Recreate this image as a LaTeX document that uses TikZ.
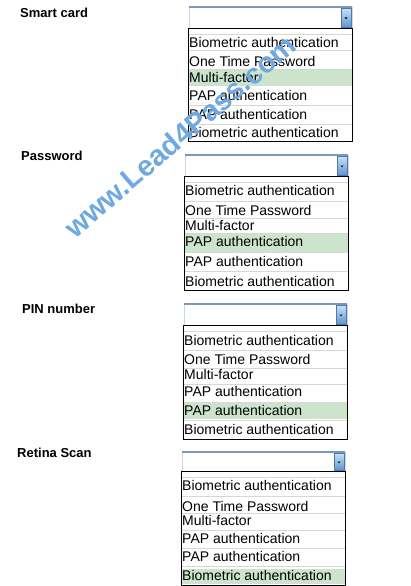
\documentclass[tikz,border=0pt]{standalone}
\usepackage{fontspec}
\setmainfont{Liberation Sans}
\definecolor{hl}{RGB}{204,228,204}
\definecolor{sep}{RGB}{215,215,215}
\definecolor{combotop}{RGB}{122,152,185}
\definecolor{comboside}{RGB}{205,215,228}
\definecolor{btnlight}{RGB}{200,222,245}
\definecolor{btndark}{RGB}{95,150,210}
\definecolor{wm}{RGB}{112,168,225}
\tikzset{
  itemtext/.style={anchor=base west, inner sep=0pt, font=\fontsize{14}{16}\selectfont},
  labeltext/.style={anchor=base west, inner sep=0pt, font=\fontsize{13}{15}\selectfont\bfseries},
  listframe/.style={draw=black, line width=0.9pt},
  sepline/.style={draw=sep, line width=0.8pt},
  hlband/.style={fill=hl},
}
% #1 name, #2 left, #3 right, #4 combo top, #5 list top, #6 list bottom
\newcommand{\combobox}[6]{%
  \fill[white] (#2,#4) rectangle (#3,#5);
  \draw[comboside, line width=0.8pt] (#2,#4) -- (#2,#5) (#3,#4) -- (#3,#5);
  \draw[combotop, line width=1.6pt] (#2,#4) -- (#3,#4);
  \shade[top color=btnlight, bottom color=btndark] ({#3-11},{#4+1.5}) rectangle ({#3-1},{#5-1});
  \draw[btndark!80!black, line width=0.4pt] ({#3-11},{#4+1.5}) rectangle ({#3-1},{#5-1});
  \fill[black] ({#3-7.5},{(#4+#5)/2}) -- ({#3-4.5},{(#4+#5)/2}) -- ({#3-6},{(#4+#5)/2+1.8}) -- cycle;
  \coordinate (#1-nw) at (#2,#5);
  \coordinate (#1-se) at (#3,#6);
}
\begin{document}
\begin{tikzpicture}[x=1pt,y=-1pt]
\useasboundingbox (0,0) rectangle (410,586);
\fill[white] (0,0) rectangle (410,586);

% ---------- Block 1: Smart card ----------
\node[labeltext] (l1) at (20,17.5) {Smart card};
\combobox{c1}{189}{352}{7}{28}{141}
\fill[hlband] (188,69) rectangle (352,85);
\foreach \s in {34,50,69,85,105,124} \draw[sepline] (188,\s) -- (352,\s);
\node[itemtext] (a1) at (189,48) {Biometric authentication};
\node[itemtext] (a2) at (189,66.5) {One Time Password};
\node[itemtext] (a3) at (189,82) {Multi-factor};
\node[itemtext] (a4) at (189,100) {PAP authentication};
\node[itemtext] (a5) at (189,119) {PAP authentication};
\node[itemtext] (a6) at (189,137.5) {Biometric authentication};
\draw[listframe] (188,28) rectangle (352,141);

% ---------- Block 2: Password ----------
\node[labeltext] (l2) at (21,160.5) {Password};
\combobox{c2}{185}{348}{155}{176}{290}
\fill[hlband] (184,233) rectangle (348,252);
\foreach \s in {182.5,201,218,233,252,271} \draw[sepline] (184,\s) -- (348,\s);
\node[itemtext] (b1) at (185,195.5) {Biometric authentication};
\node[itemtext] (b2) at (185,215) {One Time Password};
\node[itemtext] (b3) at (185,230) {Multi-factor};
\node[itemtext] (b4) at (185,246.5) {PAP authentication};
\node[itemtext] (b5) at (185,266.5) {PAP authentication};
\node[itemtext] (b6) at (185,286) {Biometric authentication};
\draw[listframe] (184,176) rectangle (348,290);

% ---------- Block 3: PIN number ----------
\node[labeltext] (l3) at (22,313.5) {PIN number};
\combobox{c3}{184}{347}{304}{325}{439}
\fill[hlband] (183,402.5) rectangle (347,418.5);
\foreach \s in {331.5,350,368,384,402.5,420} \draw[sepline] (183,\s) -- (347,\s);
\node[itemtext] (d1) at (184,345) {Biometric authentication};
\node[itemtext] (d2) at (184,364) {One Time Password};
\node[itemtext] (d3) at (184,379) {Multi-factor};
\node[itemtext] (d4) at (184,396) {PAP authentication};
\node[itemtext] (d5) at (184,415) {PAP authentication};
\node[itemtext] (d6) at (184,434) {Biometric authentication};
\draw[listframe] (183,325) rectangle (347,439);

% ---------- Block 4: Retina Scan ----------
\node[labeltext] (l4) at (17,457) {Retina Scan};
\combobox{c4}{182}{345}{452}{471}{585}
\fill[hlband] (181,569) rectangle (345,584);
\foreach \s in {477.5,496.5,513,530,548,566.5} \draw[sepline] (181,\s) -- (345,\s);
\node[itemtext] (e1) at (182,490.5) {Biometric authentication};
\node[itemtext] (e2) at (182,511) {One Time Password};
\node[itemtext] (e3) at (182,525) {Multi-factor};
\node[itemtext] (e4) at (182,543) {PAP authentication};
\node[itemtext] (e5) at (182,561.5) {PAP authentication};
\node[itemtext] (e6) at (182,580.5) {Biometric authentication};
\draw[listframe] (181,471) rectangle (345,585.5);

% ---------- watermark ----------
\node[rotate=40.5, text=wm, inner sep=0pt, font=\fontsize{29}{30}\selectfont\bfseries] (wm) at (180,136) {www.Lead4Pass.com};
\end{tikzpicture}
\end{document}
